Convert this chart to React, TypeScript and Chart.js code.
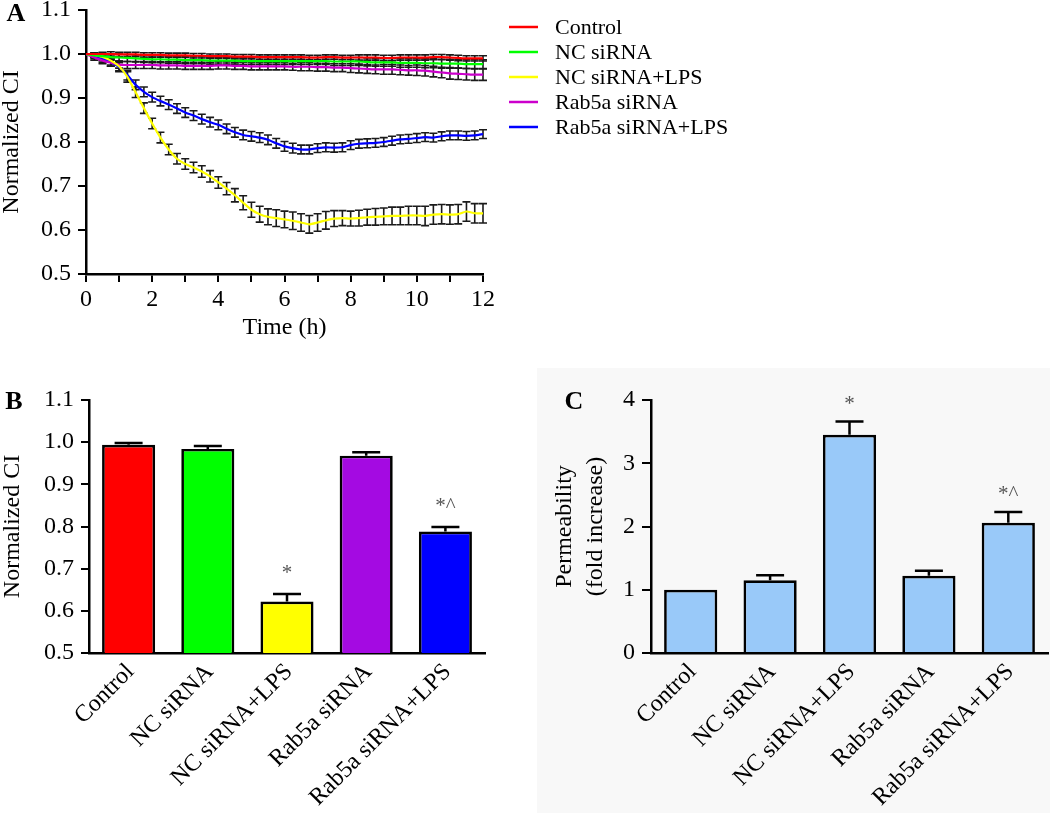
import React, { useEffect, useRef } from "react";
import { Chart, registerables } from "chart.js";
Chart.register(...registerables);

// ---------- Panel A data (time course, Normalized CI) ----------
const TIME_H = [
  0, 0.25, 0.5, 0.75, 1, 1.25, 1.5, 1.75, 2,
  2.25, 2.5, 2.75, 3, 3.25, 3.5, 3.75, 4,
  4.25, 4.5, 4.75, 5, 5.25, 5.5, 5.75, 6,
  6.25, 6.5, 6.75, 7, 7.25, 7.5, 7.75, 8,
  8.25, 8.5, 8.75, 9, 9.25, 9.5, 9.75, 10,
  10.25, 10.5, 10.75, 11, 11.25, 11.5, 11.75, 12,
];
const CONTROL_CI = [
  1.0, 1.0, 1.0, 1.0, 0.999, 0.999, 0.999, 0.998, 0.998,
  0.998, 0.997, 0.997, 0.997, 0.996, 0.996, 0.995, 0.995,
  0.995, 0.994, 0.994, 0.994, 0.993, 0.993, 0.993, 0.993,
  0.993, 0.993, 0.992, 0.992, 0.993, 0.993, 0.992, 0.992,
  0.992, 0.992, 0.992, 0.991, 0.991, 0.992, 0.992, 0.992,
  0.992, 0.993, 0.993, 0.992, 0.991, 0.99, 0.99, 0.99,
];
const CONTROL_ERR = [
  0, 0.003, 0.004, 0.005, 0.005, 0.005, 0.005, 0.005, 0.005,
  0.005, 0.005, 0.005, 0.005, 0.005, 0.005, 0.005, 0.005,
  0.005, 0.005, 0.005, 0.005, 0.005, 0.005, 0.005, 0.005,
  0.005, 0.005, 0.005, 0.005, 0.005, 0.005, 0.005, 0.005,
  0.006, 0.006, 0.006, 0.006, 0.006, 0.006, 0.006, 0.006,
  0.006, 0.006, 0.006, 0.006, 0.006, 0.006, 0.006, 0.006,
];
const NC_CI = [
  1.0, 0.997, 0.995, 0.993, 0.992, 0.991, 0.99, 0.989, 0.988,
  0.988, 0.987, 0.987, 0.986, 0.986, 0.986, 0.985, 0.985,
  0.985, 0.985, 0.984, 0.984, 0.984, 0.984, 0.984, 0.984,
  0.984, 0.984, 0.984, 0.984, 0.984, 0.983, 0.983, 0.983,
  0.983, 0.982, 0.981, 0.981, 0.981, 0.98, 0.98, 0.98,
  0.979, 0.979, 0.978, 0.978, 0.978, 0.977, 0.977, 0.977,
];
const NC_ERR = [
  0, 0.004, 0.006, 0.007, 0.008, 0.008, 0.008, 0.008, 0.008,
  0.008, 0.008, 0.008, 0.008, 0.008, 0.008, 0.008, 0.008,
  0.008, 0.008, 0.008, 0.008, 0.008, 0.008, 0.008, 0.008,
  0.008, 0.008, 0.008, 0.008, 0.008, 0.009, 0.009, 0.009,
  0.009, 0.009, 0.009, 0.009, 0.009, 0.01, 0.01, 0.01,
  0.01, 0.01, 0.01, 0.01, 0.01, 0.01, 0.01, 0.01,
];
const NC_LPS_CI = [
  1.0, 0.998, 0.993, 0.985, 0.972, 0.948, 0.913, 0.877, 0.842,
  0.81, 0.783, 0.762, 0.75, 0.742, 0.733, 0.722, 0.708,
  0.694, 0.679, 0.662, 0.646, 0.636, 0.63, 0.627, 0.624,
  0.621, 0.617, 0.613, 0.617, 0.622, 0.626, 0.627, 0.626,
  0.627, 0.629, 0.63, 0.631, 0.632, 0.632, 0.633, 0.633,
  0.632, 0.635, 0.636, 0.635, 0.636, 0.642, 0.638, 0.638,
];
const NC_LPS_ERR = [
  0, 0.005, 0.008, 0.01, 0.01, 0.012, 0.012, 0.012, 0.012,
  0.012, 0.012, 0.012, 0.012, 0.012, 0.013, 0.013, 0.013,
  0.014, 0.015, 0.016, 0.017, 0.018, 0.018, 0.019, 0.019,
  0.02, 0.02, 0.02, 0.02, 0.02, 0.018, 0.017, 0.017,
  0.018, 0.018, 0.019, 0.019, 0.02, 0.02, 0.021, 0.021,
  0.022, 0.022, 0.022, 0.022, 0.022, 0.022, 0.022, 0.022,
];
const RAB_CI = [
  1.0, 0.992, 0.985, 0.98, 0.976, 0.975, 0.975, 0.975, 0.975,
  0.974, 0.974, 0.974, 0.973, 0.973, 0.973, 0.973, 0.974,
  0.974, 0.973, 0.973, 0.972, 0.972, 0.972, 0.972, 0.972,
  0.971, 0.971, 0.971, 0.97, 0.97, 0.969, 0.969, 0.968,
  0.967, 0.966, 0.965, 0.965, 0.965, 0.964, 0.963, 0.963,
  0.962, 0.96, 0.958, 0.956, 0.955, 0.954, 0.953, 0.953,
];
const RAB_ERR = [
  0, 0.006, 0.007, 0.008, 0.008, 0.008, 0.008, 0.008, 0.008,
  0.008, 0.008, 0.008, 0.008, 0.008, 0.008, 0.008, 0.008,
  0.008, 0.008, 0.008, 0.008, 0.008, 0.008, 0.008, 0.008,
  0.008, 0.009, 0.009, 0.009, 0.009, 0.009, 0.009, 0.01,
  0.01, 0.01, 0.01, 0.011, 0.011, 0.011, 0.011, 0.012,
  0.012, 0.012, 0.012, 0.013, 0.013, 0.013, 0.013, 0.013,
];
const RAB_LPS_CI = [
  1.0, 0.995, 0.989, 0.981, 0.97, 0.952, 0.93, 0.914, 0.902,
  0.893, 0.885, 0.876, 0.867, 0.86, 0.852, 0.845, 0.839,
  0.83, 0.822, 0.816, 0.813, 0.81, 0.805, 0.797, 0.79,
  0.786, 0.783, 0.783, 0.786, 0.788, 0.787, 0.788, 0.793,
  0.796, 0.797, 0.798, 0.8, 0.803, 0.806, 0.807, 0.809,
  0.811, 0.81, 0.813, 0.815, 0.815, 0.814, 0.815, 0.818,
];
const RAB_LPS_ERR = [
  0, 0.005, 0.008, 0.009, 0.01, 0.011, 0.011, 0.011, 0.011,
  0.011, 0.011, 0.011, 0.011, 0.011, 0.011, 0.011, 0.011,
  0.011, 0.011, 0.011, 0.011, 0.011, 0.011, 0.011, 0.011,
  0.011, 0.01, 0.01, 0.01, 0.01, 0.01, 0.01, 0.01,
  0.01, 0.01, 0.01, 0.01, 0.01, 0.01, 0.01, 0.01,
  0.01, 0.01, 0.01, 0.01, 0.01, 0.01, 0.01, 0.01,
];

// ---------- Panels B and C data ----------
const GROUPS = ["Control", "NC siRNA", "NC siRNA+LPS", "Rab5a siRNA", "Rab5a siRNA+LPS"];
const CI_MEAN = [0.994, 0.984, 0.622, 0.968, 0.788];
const CI_SEM = [0.004, 0.007, 0.018, 0.008, 0.011];
const CI_MARKS = ["", "", "*", "", "*^"];
const PERM_MEAN = [1.0, 1.15, 3.45, 1.22, 2.06];
const PERM_SEM = [0, 0.08, 0.21, 0.08, 0.17];
const PERM_MARKS = ["", "", "*", "", "*^"];

const LINE_COLORS = ["#ff0000", "#00ff00", "#ffff00", "#cc00cc", "#0000ff"];
const BAR_COLORS_B = ["#ff0000", "#00ff00", "#ffff00", "#a40ae2", "#0000ff"];
const BAR_COLOR_C = "#99c9f9";

const SERIF = "'Liberation Serif', 'Times New Roman', 'DejaVu Serif', serif";

function fixBox(size: number) {
  return (scale: any) => {
    if (scale.isHorizontal()) scale.height = size;
    else scale.width = size;
    scale.paddingTop = 0;
    scale.paddingBottom = 0;
    scale.paddingLeft = 0;
    scale.paddingRight = 0;
  };
}

function panelLetter(letter: string, x: number, y: number) {
  return {
    id: "letter" + letter,
    afterDraw(chart: any) {
      const ctx = chart.ctx;
      ctx.save();
      ctx.font = `bold 26px ${SERIF}`;
      ctx.fillStyle = "#000";
      ctx.textAlign = "center";
      ctx.textBaseline = "middle";
      ctx.fillText(letter, x, y);
      ctx.restore();
    },
  };
}

function axisStyle(tickLength: number) {
  return {
    drawOnChartArea: false,
    drawTicks: true,
    tickLength,
    color: "#000",
    lineWidth: 2,
  };
}

function barExtras(sem: number[], marks: string[], markGap: number) {
  return {
    id: "barExtras",
    afterDatasetsDraw(chart: any) {
      const ctx = chart.ctx;
      const ys = chart.scales.y;
      const meta = chart.getDatasetMeta(0);
      const vals = chart.data.datasets[0].data as number[];
      ctx.save();
      meta.data.forEach((bar: any, i: number) => {
        const v = vals[i];
        const e = sem[i];
        const x = bar.x;
        const yTop = ys.getPixelForValue(v);
        const yErr = ys.getPixelForValue(v + e);
        if (e > 0) {
          ctx.strokeStyle = "#000";
          ctx.lineWidth = 2.5;
          ctx.beginPath();
          ctx.moveTo(x, yTop);
          ctx.lineTo(x, yErr);
          ctx.moveTo(x - 14, yErr);
          ctx.lineTo(x + 14, yErr);
          ctx.stroke();
        }
        if (marks[i]) {
          ctx.fillStyle = "#555";
          ctx.font = `21px ${SERIF}`;
          ctx.textAlign = "center";
          ctx.textBaseline = "middle";
          ctx.fillText(marks[i], x, yErr - markGap);
        }
      });
      ctx.restore();
    },
  };
}

function makeBarChart(
  canvas: HTMLCanvasElement,
  values: number[],
  colors: string | string[],
  yMin: number,
  yMax: number,
  step: number,
  decimals: number,
  yTitle: string | string[],
  yTitleFont: any,
  yTitlePad: number,
  yWidth: number,
  tickLen: number,
  tickPad: number,
  padRight: number,
  sem: number[],
  marks: string[],
  markGap: number,
  letter: any
) {
  return new Chart(canvas, {
    type: "bar",
    data: {
      labels: GROUPS,
      datasets: [
        {
          data: values,
          backgroundColor: colors,
          borderColor: "#000",
          borderWidth: 2.7,
          borderSkipped: "start",
          barPercentage: 0.67,
          categoryPercentage: 1.0,
        },
      ],
    },
    options: {
      responsive: false,
      animation: false,
      events: [],
      layout: { padding: { top: 35, right: padRight, left: 0, bottom: 0 } },
      plugins: { legend: { display: false }, tooltip: { enabled: false } },
      scales: {
        x: {
          type: "category",
          grid: { display: true, drawOnChartArea: false, drawTicks: false, color: "#000" },
          border: { display: true, color: "#000", width: 2.5 },
          ticks: {
            autoSkip: false,
            minRotation: 45,
            maxRotation: 45,
            padding: 5,
            labelOffset: 2,
            color: "#000",
            font: { size: 24, family: SERIF },
          },
          afterFit: fixBox(160),
        },
        y: {
          min: yMin,
          max: yMax,
          grid: axisStyle(tickLen),
          border: { display: true, color: "#000", width: 2.5 },
          ticks: {
            stepSize: step,
            padding: tickPad,
            color: "#000",
            font: { size: 24, family: SERIF },
            callback: (v: any) => Number(v).toFixed(decimals),
          },
          title: {
            display: true,
            text: yTitle,
            color: "#000",
            font: yTitleFont,
            padding: { top: yTitlePad, bottom: 0 },
          },
          afterFit: fixBox(yWidth),
        },
      },
    },
    plugins: [barExtras(sem, marks, markGap), letter],
  } as any);
}

export default function App() {
  const refA = useRef<HTMLCanvasElement>(null);
  const refB = useRef<HTMLCanvasElement>(null);
  const refC = useRef<HTMLCanvasElement>(null);

  useEffect(() => {
    document.body.style.overflow = "hidden";
    Chart.defaults.font.family = SERIF;
    Chart.defaults.color = "#000";

    const seriesA = [
      { label: "Control", ci: CONTROL_CI, err: CONTROL_ERR },
      { label: "NC siRNA", ci: NC_CI, err: NC_ERR },
      { label: "NC siRNA+LPS", ci: NC_LPS_CI, err: NC_LPS_ERR },
      { label: "Rab5a siRNA", ci: RAB_CI, err: RAB_ERR },
      { label: "Rab5a siRNA+LPS", ci: RAB_LPS_CI, err: RAB_LPS_ERR },
    ];

    const lineErrors = {
      id: "lineErrors",
      beforeDatasetsDraw(chart: any) {
        const ctx = chart.ctx;
        const ys = chart.scales.y;
        ctx.save();
        ctx.strokeStyle = "#1a1a1a";
        ctx.lineWidth = 1.6;
        seriesA.forEach((s, i) => {
          const meta = chart.getDatasetMeta(i);
          meta.data.forEach((pt: any, j: number) => {
            const e = s.err[j];
            if (!e) return;
            const v = s.ci[j];
            const y1 = ys.getPixelForValue(v + e);
            const y2 = ys.getPixelForValue(v - e);
            const x = pt.x;
            ctx.beginPath();
            ctx.moveTo(x, y1);
            ctx.lineTo(x, y2);
            ctx.moveTo(x - 4, y1);
            ctx.lineTo(x + 4, y1);
            ctx.moveTo(x - 4, y2);
            ctx.lineTo(x + 4, y2);
            ctx.stroke();
          });
        });
        ctx.restore();
      },
    };

    const legendA = {
      id: "legendA",
      afterDraw(chart: any) {
        const ctx = chart.ctx;
        ctx.save();
        ctx.font = `22px ${SERIF}`;
        ctx.textAlign = "left";
        ctx.textBaseline = "middle";
        chart.data.datasets.forEach((ds: any, i: number) => {
          const y = 27 + i * 25;
          ctx.strokeStyle = ds.borderColor;
          ctx.lineWidth = 2.5;
          ctx.beginPath();
          ctx.moveTo(509, y);
          ctx.lineTo(538, y);
          ctx.stroke();
          ctx.fillStyle = "#000";
          ctx.fillText(ds.label, 555, y + 1);
        });
        ctx.restore();
      },
    };

    const chartA = new Chart(refA.current!, {
      type: "line",
      data: {
        datasets: seriesA.map((s, i) => ({
          label: s.label,
          data: TIME_H.map((t, j) => ({ x: t, y: s.ci[j] })),
          borderColor: LINE_COLORS[i],
          backgroundColor: LINE_COLORS[i],
          borderWidth: 2.2,
          pointRadius: 0,
          tension: 0.2,
          fill: false,
        })),
      },
      options: {
        responsive: false,
        animation: false,
        events: [],
        layout: { padding: { top: 10, right: 277, left: 0, bottom: 0 } },
        plugins: { legend: { display: false }, tooltip: { enabled: false } },
        scales: {
          x: {
            type: "linear",
            min: 0,
            max: 12,
            grid: axisStyle(8),
            border: { display: true, color: "#000", width: 2.5 },
            ticks: {
              stepSize: 1,
              autoSkip: false,
              maxRotation: 0,
              padding: 3,
              color: "#000",
              font: { size: 24, family: SERIF },
              callback: (v: any) => (Number(v) % 2 === 0 ? String(v) : ""),
            },
            title: {
              display: true,
              text: "Time (h)",
              color: "#000",
              font: { size: 24, family: SERIF, lineHeight: 1.2 },
              padding: { top: 0, bottom: 3 },
            },
            afterFit: fixBox(71),
          },
          y: {
            min: 0.5,
            max: 1.1,
            grid: axisStyle(8),
            border: { display: true, color: "#000", width: 2.5 },
            ticks: {
              stepSize: 0.1,
              padding: 7,
              color: "#000",
              font: { size: 24, family: SERIF },
              callback: (v: any) => Number(v).toFixed(1),
            },
            title: {
              display: true,
              text: "Normalized CI",
              color: "#000",
              font: { size: 24, family: SERIF, lineHeight: 1.0 },
              padding: { top: 0, bottom: 0 },
            },
            afterFit: fixBox(86),
          },
        },
      },
      plugins: [lineErrors, legendA, panelLetter("A", 16, 14)],
    } as any);

    const chartB = makeBarChart(
      refB.current!,
      CI_MEAN,
      BAR_COLORS_B,
      0.5,
      1.1,
      0.1,
      1,
      "Normalized CI",
      { size: 24, family: SERIF, lineHeight: 1.0 },
      1,
      89,
      8,
      7,
      35,
      CI_SEM,
      CI_MARKS,
      20,
      panelLetter("B", 14, 37)
    );

    const chartC = makeBarChart(
      refC.current!,
      PERM_MEAN,
      BAR_COLOR_C,
      0,
      4,
      1,
      0,
      ["Permeability", "(fold increase)"],
      { size: 24, family: SERIF, lineHeight: 1.3 },
      19,
      121,
      9,
      7,
      2,
      PERM_SEM,
      PERM_MARKS,
      17,
      panelLetter("C", 44, 37)
    );

    return () => {
      chartA.destroy();
      chartB.destroy();
      chartC.destroy();
    };
  }, []);

  return (
    <div
      style={{
        position: "absolute",
        left: 0,
        top: 0,
        width: 1050,
        height: 813,
        overflow: "hidden",
        background: "#ffffff",
      }}
    >
      <canvas
        ref={refA}
        width={760}
        height={345}
        style={{ position: "absolute", left: 0, top: 0, width: 760, height: 345 }}
      />
      <canvas
        ref={refB}
        width={520}
        height={448}
        style={{ position: "absolute", left: 0, top: 365, width: 520, height: 448 }}
      />
      <div
        style={{
          position: "absolute",
          left: 537,
          top: 368,
          width: 513,
          height: 445,
          background: "#f8f8f8",
        }}
      />
      <canvas
        ref={refC}
        width={520}
        height={448}
        style={{ position: "absolute", left: 530, top: 365, width: 520, height: 448 }}
      />
    </div>
  );
}
